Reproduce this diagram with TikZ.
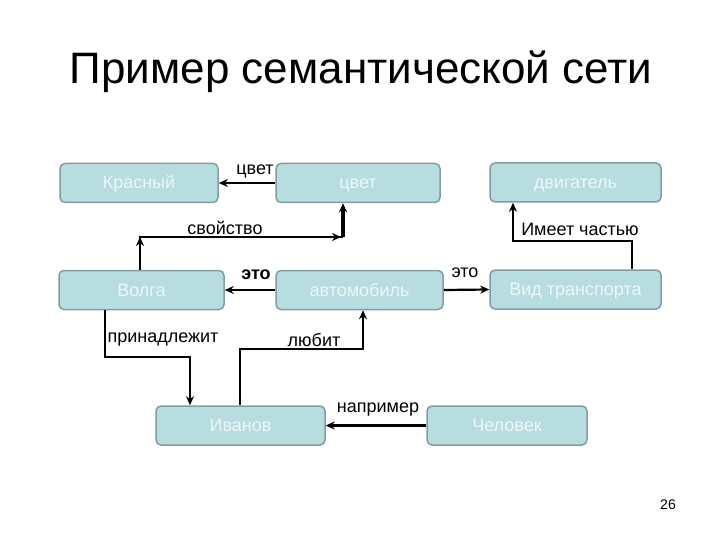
\documentclass[tikz,border=0pt]{standalone}
\usepackage{fontspec}
\setmainfont{Liberation Sans}
\usetikzlibrary{arrows.meta,calc}
\definecolor{boxfill}{RGB}{183,221,224}
\definecolor{boxborder}{RGB}{128,158,162}
\definecolor{boxtext}{RGB}{236,246,247}
\tikzset{
  box/.style={draw=boxborder, fill=boxfill, rounded corners=5pt, line width=1.5pt,
    text=boxtext, font=\fontsize{18}{20}\selectfont, inner sep=0pt, minimum height=39pt,
    text height=16pt, text depth=4pt},
  conn/.style={line width=2.2pt, -{Stealth[length=9pt,width=8pt]}},
  plain/.style={line width=2.2pt},
  lbl/.style={font=\fontsize{18}{20}\selectfont, text=black, inner sep=1pt},
  tip/.style={-{Stealth[length=9pt,width=8pt]}, line width=2.2pt}
}
\begin{document}
\begin{tikzpicture}[x=1pt,y=-1pt]
\useasboundingbox (0,0) rectangle (720,540);
\fill[white] (0,0) rectangle (720,540);
\node[font=\fontsize{44}{48}\selectfont] (title) at (361,72) {Пример семантической сети};

\node[box, minimum width=158pt] (kras) at (139,183) {Красный};
\node[box, minimum width=164pt] (cvet) at (358,183) {цвет};
\node[box, minimum width=171pt] (dvig) at (575.5,182.5) {двигатель};
\node[box, minimum width=165pt] (volga) at (141.5,290) {Волга};
\node[box, minimum width=167pt] (avto) at (359.5,290) {автомобиль};
\node[box, minimum width=171pt] (vid) at (575.5,289.5) {Вид транспорта};
\node[box, minimum width=169pt] (ivan) at (240.5,425.5) {Иванов};
\node[box, minimum width=160pt] (chel) at (507,425.5) {Человек};

% цвет -> Красный
\draw[conn] (cvet.west) -- (kras.east);
\node[lbl] (l1) at (255,171) {цвет};

% свойство
\coordinate (p1) at (140,237);
\coordinate (p2) at (343,237);
\draw[plain] (volga.north -| p1) -- (p1) -- (p2);
\draw[tip] ($(p1)+(0,6)$) -- (p1);
\draw[tip] ($(p2)+(-15,0)$) -- ($(p2)+(-2,0)$);
\draw[conn, line width=3.5pt] (p2) -- (p2 |- cvet.south);
\node[lbl] (l2) at (225,228) {свойство};

% Имеет частью
\coordinate (q1) at (632,241);
\coordinate (q2) at (513,241);
\draw[conn] (vid.north -| q1) -- (q1) -- (q2) -- (q2 |- dvig.south);
\node[lbl] (l3) at (580,229) {Имеет частью};

% это
\draw[conn] (avto.west) -- (volga.east);
\node[lbl, font=\bfseries\fontsize{18}{20}\selectfont] (l4) at (256,275) {это};
\draw[conn] (avto.east) -- (vid.west);
\node[lbl] (l5) at (465,273) {это};

% принадлежит
\coordinate (r1) at (105,357);
\coordinate (r2) at (190,357);
\draw[conn] (volga.south -| r1) -- (r1) -- (r2) -- (r2 |- ivan.north);
\node[lbl] (l6) at (163,340) {принадлежит};

% любит
\coordinate (s1) at (240,349);
\coordinate (s2) at (363,349);
\draw[conn] (ivan.north -| s1) -- (s1) -- (s2) -- (s2 |- avto.south);
\node[lbl] (l7) at (314,340) {любит};

% например
\draw[conn] (chel.west) -- (ivan.east);
\node[lbl] (l8) at (378,410) {например};

\node[font=\fontsize{14}{16}\selectfont] (pg) at (668,505) {26};
\end{tikzpicture}
\end{document}
